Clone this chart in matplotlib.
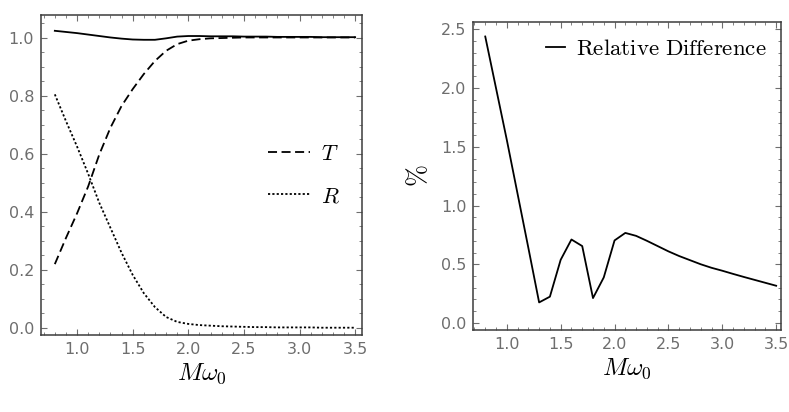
import matplotlib
matplotlib.use('Agg')
import matplotlib.pyplot as plt
from matplotlib.ticker import MultipleLocator

plt.rcParams['mathtext.fontset'] = 'cm'
plt.rcParams['font.family'] = 'DejaVu Sans'

# left panel: transmission / reflection (sampled every 0.1)
m_omega = [0.8, 0.9, 1.0, 1.1, 1.2, 1.3, 1.4, 1.5, 1.6, 1.7, 1.8, 1.9, 2.0,
           2.1, 2.2, 2.3, 2.4, 2.5, 2.6, 2.7, 2.8, 2.9, 3.0, 3.1, 3.2, 3.3,
           3.4, 3.5]
T_vals = [0.220, 0.310, 0.395, 0.488, 0.598, 0.690, 0.765, 0.823, 0.875, 0.920,
          0.955, 0.978, 0.990, 0.995, 0.998, 0.999, 1.000, 1.001, 1.001, 1.001,
          1.001, 1.001, 1.001, 1.001, 1.001, 1.001, 1.001, 1.001]
R_vals = [0.805, 0.713, 0.625, 0.531, 0.431, 0.345, 0.259, 0.183, 0.120, 0.072,
          0.038, 0.021, 0.014, 0.010, 0.008, 0.006, 0.005, 0.004, 0.003, 0.003,
          0.002, 0.002, 0.002, 0.002, 0.001, 0.001, 0.001, 0.001]
total_vals = [1.024, 1.020, 1.016, 1.011, 1.006, 1.001, 0.997, 0.994, 0.993, 0.993,
              0.998, 1.004, 1.006, 1.006, 1.005, 1.005, 1.005, 1.004, 1.004, 1.004,
              1.003, 1.003, 1.003, 1.003, 1.002, 1.002, 1.002, 1.002]

# right panel: relative difference in %
rel_diff = [2.44, 2.00, 1.56, 1.10, 0.64, 0.175, 0.224, 0.538, 0.711, 0.655,
            0.212, 0.388, 0.703, 0.767, 0.742, 0.700, 0.655, 0.610, 0.570, 0.535,
            0.500, 0.470, 0.445, 0.418, 0.392, 0.367, 0.342, 0.317]

GREY = '#6e6e6e'
FRAME = '#3c3c3c'


def style_axes(ax, xlim, ylim, xmaj, xmin, ymaj, ymin):
    ax.set_xlim(*xlim)
    ax.set_ylim(*ylim)
    ax.xaxis.set_major_locator(MultipleLocator(xmaj))
    ax.xaxis.set_minor_locator(MultipleLocator(xmin))
    ax.yaxis.set_major_locator(MultipleLocator(ymaj))
    ax.yaxis.set_minor_locator(MultipleLocator(ymin))
    ax.tick_params(which='both', direction='in', top=True, right=True,
                   color=GREY, labelcolor=GREY, labelsize=11.5)
    ax.tick_params(which='major', length=4.5, width=0.8, pad=5)
    ax.tick_params(which='minor', length=2.2, width=0.6)
    for s in ax.spines.values():
        s.set_color(FRAME)
        s.set_linewidth(1.1)
    ax.xaxis.set_major_formatter(plt.FuncFormatter(lambda v, p: f'{v:.1f}'))
    ax.yaxis.set_major_formatter(plt.FuncFormatter(lambda v, p: f'{v:.1f}'))


fig = plt.figure(figsize=(7.89, 4.12), dpi=100)
ax1 = fig.add_axes([0.052, 0.187, 0.407, 0.777])
ax2 = fig.add_axes([0.600, 0.199, 0.390, 0.748])

ax1.plot(m_omega, total_vals, color='black', lw=1.3)
ax1.plot(m_omega, T_vals, color='black', lw=1.3, ls=(0, (5, 2.5)), label='$T$')
ax1.plot(m_omega, R_vals, color='black', lw=1.3, ls=(0, (1.2, 1.2)), label='$R$')
style_axes(ax1, (0.676, 3.563), (-0.024, 1.079), 0.5, 0.1, 0.2, 0.05)
ax1.set_xlabel(r'$M\omega_0$', fontsize=18, labelpad=3)
ax1.legend(loc='center left', bbox_to_anchor=(0.645, 0.5), frameon=False,
           fontsize=16, handlelength=1.9, handletextpad=0.5, labelspacing=1.0)

ax2.plot(m_omega, rel_diff, color='black', lw=1.3,
         label=r'$\mathrm{Relative\ Difference}$')
style_axes(ax2, (0.69, 3.546), (-0.06, 2.565), 0.5, 0.1, 0.5, 0.1)
ax2.set_xlabel(r'$M\omega_0$', fontsize=18, labelpad=3)
ax2.set_ylabel(r'$\%$', fontsize=19, labelpad=6)
ax2.legend(loc='upper right', frameon=False, fontsize=16.5, handlelength=0.85,
           handletextpad=0.45, borderaxespad=0.25)

fig.savefig('out.png', dpi=100)
